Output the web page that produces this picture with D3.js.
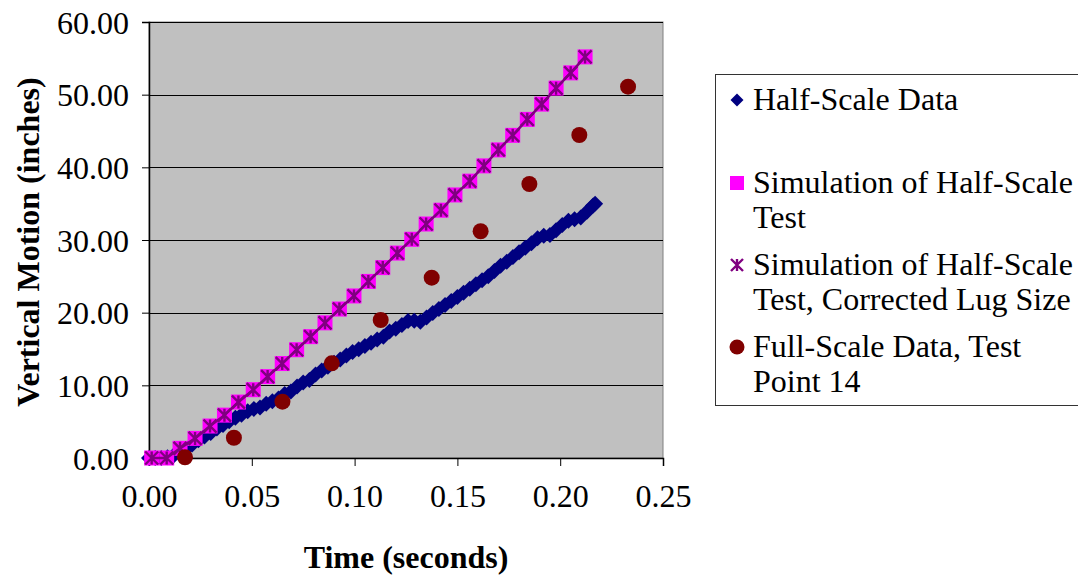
<!DOCTYPE html>
<html>
<head>
<meta charset="utf-8">
<script src="https://cdn.jsdelivr.net/npm/d3@7.9.0/dist/d3.min.js"></script>
<style>
  body { margin: 0; background: #fff; }
  svg { display: block; }
</style>
</head>
<body>
<svg id="chart"></svg>
<script>
// Half-Scale Data (navy diamonds)
const halfTime = [0.000, 0.003, 0.006, 0.009, 0.012, 0.015, 0.018, 0.021, 0.024, 0.027,
  0.030, 0.033, 0.036, 0.039, 0.042, 0.045, 0.048, 0.051, 0.054, 0.057,
  0.060, 0.063, 0.066, 0.069, 0.072, 0.075, 0.078, 0.081, 0.084, 0.087,
  0.090, 0.093, 0.096, 0.099, 0.102, 0.105, 0.108, 0.111, 0.114, 0.117,
  0.120, 0.123, 0.126, 0.129, 0.132, 0.135, 0.138, 0.141, 0.144, 0.147,
  0.150, 0.153, 0.156, 0.159, 0.162, 0.165, 0.168, 0.171, 0.174, 0.177,
  0.180, 0.183, 0.186, 0.189, 0.192, 0.195, 0.198, 0.201, 0.204, 0.207,
  0.210, 0.213, 0.216, 0.217];
const halfMotion = [0.00, 0.00, 0.00, 0.10, 0.35, 0.70, 1.20, 1.85, 2.45, 2.95,
  3.45, 4.05, 4.55, 5.05, 5.55, 5.95, 6.45, 6.75, 6.95, 7.45,
  7.80, 8.20, 8.80, 9.15, 9.85, 10.40, 10.75, 11.50, 12.05, 12.55,
  13.10, 13.55, 14.10, 14.60, 14.95, 15.40, 15.85, 16.30, 16.70, 17.40,
  17.80, 18.30, 18.85, 18.90, 18.75, 19.35, 19.95, 20.50, 21.05, 21.60,
  22.15, 22.75, 23.30, 23.90, 24.45, 25.00, 25.75, 26.45, 27.00, 27.65,
  28.30, 28.95, 29.55, 30.25, 30.60, 30.70, 31.35, 32.05, 32.65, 32.85,
  33.10, 33.90, 34.75, 35.00];

// Simulation of Half-Scale Test (squares) and corrected lug size (asterisks)
const simTime = [0.0013, 0.0086, 0.0151, 0.0224, 0.0297, 0.0367, 0.0435, 0.0507, 0.0577, 0.0648,
  0.0718, 0.0786, 0.0856, 0.0926, 0.0997, 0.1067, 0.1137, 0.1208, 0.1278, 0.1348,
  0.1420, 0.1488, 0.1560, 0.1629, 0.1699, 0.1769, 0.1840, 0.1910, 0.1980, 0.2051, 0.2121];
const simMotion = [0.00, 0.00, 1.33, 2.70, 4.40, 5.90, 7.70, 9.40, 11.20, 13.00,
  14.90, 16.70, 18.60, 20.50, 22.30, 24.30, 26.20, 28.20, 30.10, 32.20,
  34.10, 36.20, 38.10, 40.20, 42.40, 44.40, 46.60, 48.70, 50.90, 53.00, 55.20];
const simCorrectedMotion = [0.00, 0.00, 1.33, 2.70, 4.40, 5.90, 7.70, 9.40, 11.20, 13.00,
  14.90, 16.70, 18.60, 20.50, 22.30, 24.30, 26.20, 28.20, 30.10, 32.20,
  34.10, 36.20, 38.10, 40.20, 42.40, 44.40, 46.60, 48.70, 50.90, 53.00, 55.20];

// Full-Scale Data, Test Point 14 (dark red circles)
const fullTime = [0.0175, 0.0413, 0.0649, 0.0889, 0.1127, 0.1375, 0.1613, 0.1850, 0.2093, 0.2330];
const fullMotion = [0.10, 2.79, 7.75, 13.03, 18.99, 24.81, 31.20, 37.71, 44.45, 51.10];

const xTicks = [0, 0.05, 0.10, 0.15, 0.20, 0.25];
const yTicks = [0, 10, 20, 30, 40, 50, 60];

const legendItems = [
  { key: "diamond", lines: ["Half-Scale Data"] },
  { key: "square", lines: ["Simulation of Half-Scale", "Test"] },
  { key: "star", lines: ["Simulation of Half-Scale", "Test, Corrected Lug Size"] },
  { key: "circle", lines: ["Full-Scale Data, Test", "Point 14"] }
];

const svgWidth = 1078;
const svgHeight = 575;
const margin = { top: 22, left: 149 };
const width = 514;
const height = 436;
const font = "'Times New Roman', 'Liberation Serif', serif";

const svg = d3.select("#chart").attr("width", svgWidth).attr("height", svgHeight);

const xScale = d3.scaleLinear().domain([0, 0.25]).range([0, width]);
const yScale = d3.scaleLinear().domain([0, 60]).range([height, 0]);

const g = svg.append("g").attr("transform", `translate(${margin.left}, ${margin.top})`);

g.append("rect")
  .attr("width", width)
  .attr("height", height)
  .attr("fill", "#c0c0c0")
  .attr("stroke", "#808080")
  .attr("stroke-width", 1);

// gridlines
g.selectAll("line.grid")
  .data(yTicks.filter(d => d > 0))
  .enter()
  .append("line")
  .attr("x1", 0)
  .attr("x2", width)
  .attr("y1", d => Math.round(yScale(d)) + 0.5)
  .attr("y2", d => Math.round(yScale(d)) + 0.5)
  .attr("stroke", "#000")
  .attr("stroke-width", 1);

const xAxis = d3.axisBottom(xScale).tickValues(xTicks).tickFormat(d3.format(".2f")).tickSize(8).tickPadding(18);
const yAxis = d3.axisLeft(yScale).tickValues(yTicks).tickFormat(d3.format(".2f")).tickSize(7).tickPadding(13);

const gx = g.append("g").attr("transform", `translate(0, ${height})`).call(xAxis);
const gy = g.append("g").call(yAxis);
[gx, gy].forEach(ax => {
  ax.select(".domain").attr("stroke", "#000").attr("stroke-width", 1.5);
  ax.selectAll(".tick line").attr("stroke", "#000");
  ax.selectAll("text")
    .attr("fill", "#000")
    .style("font-family", font)
    .style("font-size", "32px");
});
gy.selectAll("text").attr("dy", "0.35em");
gx.selectAll("text").attr("dy", "0.71em");

// marker shapes
const diamondPath = r => `M0,${-r}L${r},0L0,${r}L${-r},0Z`;
const starPath = r => `M${-r},${-r}L${r},${r}M${-r},${r}L${r},${-r}M0,${-r}L0,${r}`;

// Half-scale series
const halfData = halfTime.map((t, i) => ({ t, y: halfMotion[i] }));
g.append("path")
  .datum(halfData)
  .attr("fill", "none")
  .attr("stroke", "#000080")
  .attr("stroke-width", 6)
  .attr("d", d3.line().x(d => xScale(d.t)).y(d => yScale(d.y)));
g.selectAll("path.half")
  .data(halfData)
  .enter()
  .append("path")
  .attr("transform", d => `translate(${xScale(d.t)}, ${yScale(d.y)})`)
  .attr("d", diamondPath(8))
  .attr("fill", "#000080");

// Simulation squares
const simData = simTime.map((t, i) => ({ t, y: simMotion[i] }));
g.selectAll("rect.sim")
  .data(simData)
  .enter()
  .append("rect")
  .attr("x", d => xScale(d.t) - 7.5)
  .attr("y", d => yScale(d.y) - 7.5)
  .attr("width", 15)
  .attr("height", 15)
  .attr("fill", "#ff00ff");

// Simulation corrected (asterisks + line)
const simCorrData = simTime.map((t, i) => ({ t, y: simCorrectedMotion[i] }));
g.append("path")
  .datum(simCorrData)
  .attr("fill", "none")
  .attr("stroke", "#800080")
  .attr("stroke-width", 2.5)
  .attr("d", d3.line().x(d => xScale(d.t)).y(d => yScale(d.y)));
g.selectAll("path.star")
  .data(simCorrData)
  .enter()
  .append("path")
  .attr("transform", d => `translate(${xScale(d.t)}, ${yScale(d.y)})`)
  .attr("d", starPath(6.5))
  .attr("fill", "none")
  .attr("stroke", "#800080")
  .attr("stroke-width", 2.4);

// Full-scale circles
g.selectAll("circle.full")
  .data(fullTime.map((t, i) => ({ t, y: fullMotion[i] })))
  .enter()
  .append("circle")
  .attr("cx", d => xScale(d.t))
  .attr("cy", d => yScale(d.y))
  .attr("r", 8)
  .attr("fill", "#800000");

// axis titles
svg.append("text")
  .attr("x", margin.left + width / 2)
  .attr("y", 568)
  .attr("text-anchor", "middle")
  .style("font-family", font)
  .style("font-size", "32px")
  .style("font-weight", "bold")
  .text("Time (seconds)");

svg.append("text")
  .attr("transform", `translate(39, ${margin.top + height / 2 + 2}) rotate(-90)`)
  .attr("text-anchor", "middle")
  .style("font-family", font)
  .style("font-size", "32px")
  .style("font-weight", "bold")
  .text("Vertical Motion (inches)");

// legend
const legend = svg.append("g");
legend.append("rect")
  .attr("x", 715.5)
  .attr("y", 74.5)
  .attr("width", 400)
  .attr("height", 331)
  .attr("fill", "#fff")
  .attr("stroke", "#333")
  .attr("stroke-width", 1);

const itemBaselines = [110, 193, 275, 357];
const markerX = 737;
legendItems.forEach((item, i) => {
  const base = itemBaselines[i];
  const my = base - 10;
  if (item.key === "diamond") {
    legend.append("path").attr("transform", `translate(${markerX}, ${my})`)
      .attr("d", diamondPath(6.5)).attr("fill", "#000080");
  } else if (item.key === "square") {
    legend.append("rect").attr("x", markerX - 7).attr("y", my - 7)
      .attr("width", 14).attr("height", 14).attr("fill", "#ff00ff");
  } else if (item.key === "star") {
    legend.append("path").attr("transform", `translate(${markerX}, ${my})`)
      .attr("d", starPath(6)).attr("fill", "none").attr("stroke", "#800080").attr("stroke-width", 2.4);
  } else {
    legend.append("circle").attr("cx", markerX).attr("cy", my).attr("r", 7.5).attr("fill", "#800000");
  }
  item.lines.forEach((line, j) => {
    legend.append("text")
      .attr("x", 753)
      .attr("y", base + j * 35)
      .style("font-family", font)
      .style("font-size", "32px")
      .attr("fill", "#000")
      .text(line);
  });
});
</script>
</body>
</html>
